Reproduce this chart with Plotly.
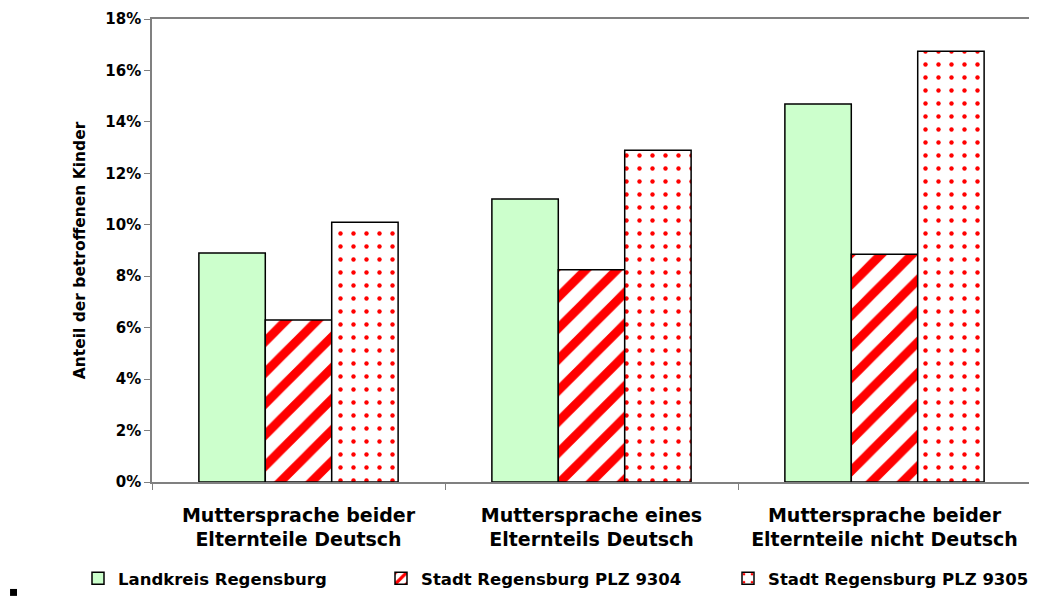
import plotly.graph_objects as go

categories = [
    "Muttersprache beider<br>Elternteile Deutsch",
    "Muttersprache eines<br>Elternteils Deutsch",
    "Muttersprache beider<br>Elternteile nicht Deutsch",
]
landkreis = [8.9, 11.0, 14.7]
plz_9304 = [6.3, 8.25, 8.85]
plz_9305 = [10.1, 12.9, 16.75]

font = "DejaVu Sans"
legend_font = dict(family=font, size=16.5, color="black", weight="bold")

fig = go.Figure()
fig.add_trace(go.Bar(
    x=categories, y=landkreis, name="Landkreis Regensburg", legend="legend",
    marker=dict(color="#CCFFCC", line=dict(color="black", width=1.5)),
))
fig.add_trace(go.Bar(
    x=categories, y=plz_9304, name="Stadt Regensburg PLZ 9304", legend="legend2",
    marker=dict(color="white", line=dict(color="black", width=1.5),
                pattern=dict(shape="/", fgcolor="red", bgcolor="white",
                             fgopacity=1, size=22, solidity=0.4)),
))
fig.add_trace(go.Bar(
    x=categories, y=plz_9305, name="Stadt Regensburg PLZ 9305", legend="legend3",
    marker=dict(color="white", line=dict(color="black", width=1.5),
                pattern=dict(shape=".", fgcolor="red", bgcolor="white",
                             fgopacity=1, size=13, solidity=0.09)),
))


def leg(x):
    return dict(
        orientation="h", xref="container", yref="container",
        x=x, y=0.0, xanchor="left", yanchor="bottom",
        font=legend_font, itemwidth=30, bgcolor="rgba(0,0,0,0)",
    )


fig.update_layout(
    width=1029, height=588,
    margin=dict(l=144, r=6, t=11, b=114, autoexpand=False),
    paper_bgcolor="white", plot_bgcolor="white",
    barmode="group", bargap=0.32, bargroupgap=0,
    font=dict(family=font, color="black"),
    showlegend=True,
    legend=leg(70 / 1029),
    legend2=leg(373 / 1029),
    legend3=leg(720 / 1029),
)
fig.update_xaxes(
    showline=True, linecolor="#808080", linewidth=1.5, mirror=True,
    ticks="outside", tickson="boundaries", ticklen=6, tickcolor="#808080",
    ticklabelstandoff=15,
    tickfont=dict(family=font, size=19, color="black", weight="bold"),
)
fig.update_yaxes(
    range=[0, 18], dtick=2, ticksuffix="%",
    showline=True, linecolor="#808080", linewidth=1.5, mirror=True,
    ticks="outside", ticklen=6, tickcolor="#808080", showgrid=False,
    zeroline=False,
    tickfont=dict(family=font, size=15, color="black", weight="bold"),
    title=dict(text="Anteil der betroffenen Kinder", standoff=16,
               font=dict(family=font, size=15.5, color="black", weight="bold")),
)
fig.add_shape(type="rect", xref="paper", yref="paper",
              x0=-0.1615, x1=-0.1536, y0=-0.246, y1=-0.231,
              fillcolor="black", line=dict(width=0))

fig.write_html("out.html")
